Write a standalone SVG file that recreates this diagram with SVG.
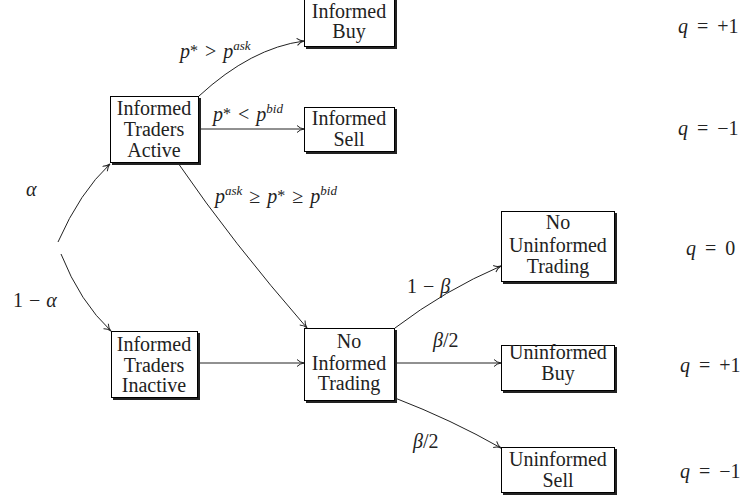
<svg xmlns="http://www.w3.org/2000/svg" width="740" height="502" viewBox="0 0 740 502">
<defs>
<style>
.box{fill:#fff;stroke:#000;stroke-width:1}
.sh{fill:#222}
.t{font-family:"Liberation Serif",serif;font-size:20px;fill:#222;text-anchor:middle}
.m{font-family:"Liberation Serif",serif;font-size:20px;fill:#222}
.i{font-style:italic}
.s{font-size:13px}
.st{font-size:16px}
.e{fill:none;stroke:#222;stroke-width:1;marker-end:url(#ah)}
</style>
<marker id="ah" markerUnits="userSpaceOnUse" markerWidth="12" markerHeight="10" refX="8" refY="4" orient="auto" viewBox="0 0 12 10">
<path d="M1,0.5 Q4,3.5 8,4 Q4,4.5 1,7.5" fill="none" stroke="#222" stroke-width="1"/>
</marker>
</defs>
<rect width="740" height="502" fill="#fff"/>
<g id="connectors">
<path class="e" d="M58,242 Q80,192 110,164"/>
<path class="e" d="M61,254 Q80,302 111,331"/>
<path class="e" d="M199,96 Q251,48 304,41"/>
<path class="e" d="M199,129 L304,129"/>
<path class="e" d="M178,163 Q232,242 307,328"/>
<path class="e" d="M198,363 L304,363"/>
<path class="e" d="M395,328 Q445,290 501,266"/>
<path class="e" d="M395,363 L501,363"/>
<path class="e" d="M395,398 Q452,420 501,448"/>
</g>
<g id="edge-labels">
<text class="m" x="180" y="58"><tspan class="i">p</tspan><tspan class="st" dy="-2">*</tspan><tspan dx="7" dy="2">&gt;</tspan><tspan class="i" dx="7">p</tspan><tspan class="i s" dy="-8">ask</tspan></text>
<text class="m" x="213" y="121"><tspan class="i">p</tspan><tspan class="st" dy="-2">*</tspan><tspan dx="7" dy="2">&lt;</tspan><tspan class="i" dx="7">p</tspan><tspan class="i s" dy="-8">bid</tspan></text>
<text class="m" x="215" y="203"><tspan class="i">p</tspan><tspan class="i s" dy="-8">ask</tspan><tspan dx="7" dy="8">≥</tspan><tspan class="i" dx="7">p</tspan><tspan class="st" dy="-2">*</tspan><tspan dx="7" dy="2">≥</tspan><tspan class="i" dx="7">p</tspan><tspan class="i s" dy="-8">bid</tspan></text>
<text class="m i" x="26" y="196">α</text>
<text class="m" x="13" y="307">1<tspan dx="6">−</tspan><tspan class="i" dx="6">α</tspan></text>
<text class="m" x="407" y="293">1<tspan dx="6">−</tspan><tspan class="i" dx="6">β</tspan></text>
<text class="m" x="433" y="347"><tspan class="i">β</tspan>/2</text>
<text class="m" x="413" y="448"><tspan class="i">β</tspan>/2</text>
</g>
<g id="n-informed-buy">
<rect class="sh" x="306" y="-4" width="91" height="53"/>
<rect class="box" x="304.5" y="-6.5" width="90" height="53"/>
<text class="t" x="349" y="18">Informed</text>
<text class="t" x="349" y="38">Buy</text>
</g>
<g id="n-informed-sell">
<rect class="sh" x="306" y="109" width="91" height="45"/>
<rect class="box" x="304.5" y="107.5" width="90" height="44"/>
<text class="t" x="349" y="125">Informed</text>
<text class="t" x="349" y="146">Sell</text>
</g>
<g id="n-active">
<rect class="sh" x="112" y="98" width="89" height="67"/>
<rect class="box" x="110.5" y="96.5" width="88" height="66"/>
<text class="t" x="154" y="115">Informed</text>
<text class="t" x="154" y="136">Traders</text>
<text class="t" x="154" y="157">Active</text>
</g>
<g id="n-inactive">
<rect class="sh" x="113" y="333" width="87" height="67"/>
<rect class="box" x="111.5" y="331.5" width="86" height="66"/>
<text class="t" x="154" y="351">Informed</text>
<text class="t" x="154" y="372">Traders</text>
<text class="t" x="154" y="392">Inactive</text>
</g>
<g id="n-no-informed">
<rect class="sh" x="306" y="330" width="91" height="73"/>
<rect class="box" x="304.5" y="328.5" width="90" height="72"/>
<text class="t" x="349" y="348">No</text>
<text class="t" x="349" y="370">Informed</text>
<text class="t" x="349" y="390">Trading</text>
</g>
<g id="n-no-uninformed">
<rect class="sh" x="503" y="213" width="114" height="71"/>
<rect class="box" x="501.5" y="211.5" width="113" height="70"/>
<text class="t" x="558" y="229">No</text>
<text class="t" x="558" y="252">Uninformed</text>
<text class="t" x="558" y="273">Trading</text>
</g>
<g id="n-uninformed-buy">
<rect class="sh" x="503" y="347" width="114" height="46"/>
<rect class="box" x="501.5" y="345.5" width="113" height="45"/>
<text class="t" x="558" y="359">Uninformed</text>
<text class="t" x="558" y="380">Buy</text>
</g>
<g id="n-uninformed-sell">
<rect class="sh" x="503" y="449" width="114" height="46"/>
<rect class="box" x="501.5" y="447.5" width="113" height="45"/>
<text class="t" x="558" y="466">Uninformed</text>
<text class="t" x="558" y="487">Sell</text>
</g>
<g id="outcomes">
<text class="m" x="678" y="33"><tspan class="i">q</tspan><tspan dx="9">=</tspan><tspan dx="9">+1</tspan></text>
<text class="m" x="678" y="135"><tspan class="i">q</tspan><tspan dx="9">=</tspan><tspan dx="9">−1</tspan></text>
<text class="m" x="686" y="255"><tspan class="i">q</tspan><tspan dx="9">=</tspan><tspan dx="9">0</tspan></text>
<text class="m" x="680" y="372"><tspan class="i">q</tspan><tspan dx="9">=</tspan><tspan dx="9">+1</tspan></text>
<text class="m" x="680" y="478"><tspan class="i">q</tspan><tspan dx="9">=</tspan><tspan dx="9">−1</tspan></text>
</g>
</svg>
